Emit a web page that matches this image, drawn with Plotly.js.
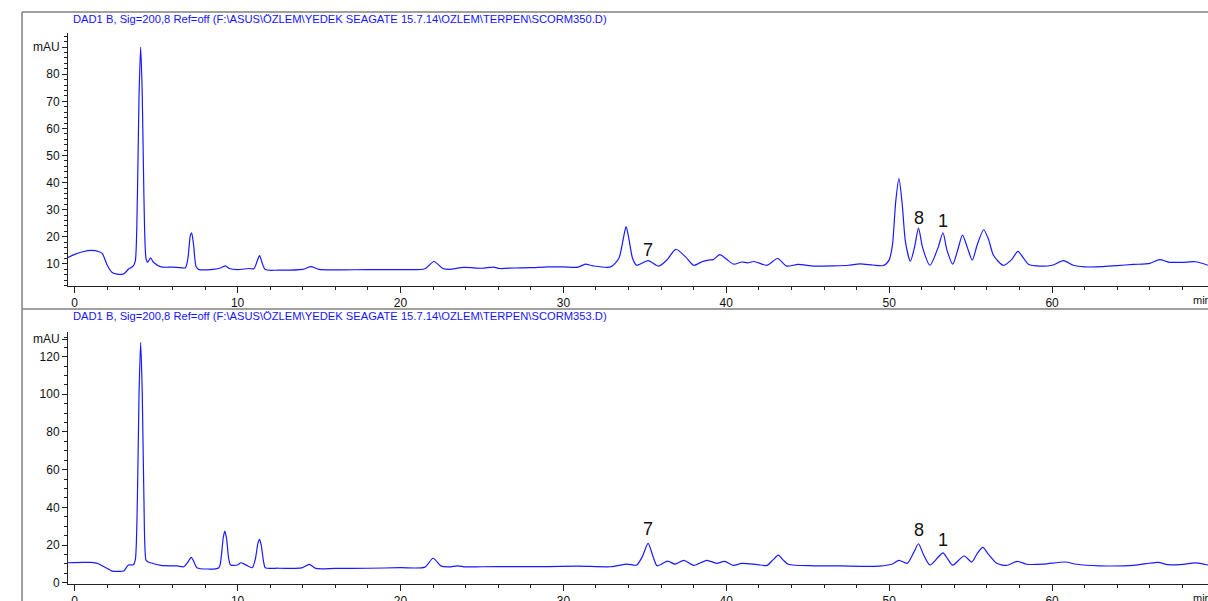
<!DOCTYPE html>
<html>
<head>
<meta charset="utf-8">
<script src="https://cdn.plot.ly/plotly-3.0.1.min.js"></script>
<style>html,body{margin:0;padding:0;background:#fff;}#chart{width:1208px;height:601px;}</style>
</head>
<body>
<div id="chart"></div>
<script>
// ---- Data: SCORM350.D (top panel) ----
const time350 = [-0.41,0,0.5,1.0,1.5,1.7,2.0,2.3,2.6,3.0,3.3,3.6,3.72,3.85,3.95,4.05,4.15,4.25,4.38,4.48,4.66,4.85,5.3,6.0,6.5,6.8,6.95,7.1,7.18,7.3,7.45,7.6,8.5,9.0,9.25,9.5,10.0,10.7,11.0,11.2,11.35,11.5,11.7,12.5,14.0,14.5,15.0,16,18,20,21.5,22.05,22.6,23.0,23.9,25.0,25.7,26.1,27.0,28.0,29.0,30.0,30.9,31.35,31.8,32.9,33.4,33.7,33.85,34.0,34.25,34.5,35.2,35.85,36.35,36.9,37.5,38.0,38.5,38.9,39.2,39.6,40.0,40.45,40.96,41.3,41.7,42.5,43.15,43.7,44.4,45.4,46.6,47.5,48.2,49.0,49.65,50.0,50.2,50.4,50.6,50.8,51.0,51.3,51.55,51.8,52.05,52.5,53.0,53.3,53.55,53.9,54.2,54.5,54.8,55.1,55.4,55.8,56.1,56.4,57.0,57.5,57.9,58.2,58.55,59.26,60.0,60.7,61.3,62.0,63.0,64.0,65.0,66.0,66.6,67.2,68.0,68.8,69.57];
const mau350  = [12.4,13.5,14.5,15.0,14.5,13.8,9.5,6.8,6.2,6.3,8.0,9.3,11,35,72,90,72,35,12,10.6,12.2,10.5,8.9,8.8,8.6,8.6,12,20.5,21.5,17,9,8.0,8.0,8.6,9.3,8.3,7.9,8.3,8.2,11,13.1,10.5,7.9,7.7,8.0,9.0,8.0,7.8,7.9,7.9,8.2,10.9,8.3,8.0,8.7,8.4,8.8,8.3,8.5,8.6,8.9,8.9,8.8,9.9,9.3,8.9,12,20,23.8,20,12,9.5,11.2,9.2,11.4,15.4,12.6,9.5,10.8,11.4,11.6,13.4,11.8,9.9,10.7,10.4,10.9,9.5,12.0,9.2,9.8,9.2,9.3,9.5,10.0,9.6,9.4,11.5,17,33,41.5,32,18,11.0,16,23.2,16,9.5,16,21.5,15,9.9,15,20.6,16,11.4,17,22.6,19,13.2,9.5,11.5,14.6,12.5,9.9,9.2,9.5,11.2,9.5,8.9,9.0,9.4,9.8,10.2,11.6,10.6,10.6,10.8,9.5];

// ---- Data: SCORM353.D (bottom panel) ----
const time353 = [-0.41,0.5,1.0,1.4,1.6,2.0,2.3,2.7,3.0,3.3,3.6,3.72,3.85,3.95,4.05,4.15,4.25,4.38,4.48,4.66,5.3,6.3,6.7,6.95,7.16,7.35,7.5,8.85,9.0,9.12,9.22,9.33,9.45,9.57,9.98,10.2,10.5,10.9,11.1,11.25,11.35,11.45,11.6,11.7,12.5,13.5,14.0,14.4,14.8,16,18,20,21.5,22.0,22.5,23.0,23.5,24,25,27,29,31.0,32.9,33.9,34.5,34.85,35.2,35.5,35.75,36.4,36.85,37.4,38.0,38.8,39.4,39.9,40.45,40.95,41.9,42.5,42.85,43.2,43.5,43.8,45.4,47,49.4,50.15,50.6,51.1,51.5,51.8,52.1,52.5,53.0,53.3,53.6,53.9,54.6,55.07,55.4,55.75,56.1,56.6,57.2,57.87,58.45,59.5,60.8,61.5,62.9,65.0,66.5,67.1,68.05,68.8,69.57];
const mau353  = [10.6,10.8,10.8,10.3,9.4,7.6,6.2,6.0,6.2,9.4,9.5,12,45,100,127.5,100,45,12,11.2,10.6,9.2,8.9,8.5,11,13.5,10.5,8.0,8.0,14,24,27.4,23,13,9.4,9.4,10.6,9.5,8.0,13,21,23.0,20,11,8.0,7.7,7.6,8.0,9.8,7.6,7.6,7.7,8.0,8.3,13.0,8.8,8.4,9.0,8.4,8.5,8.6,8.6,8.8,8.5,9.9,9.4,14,20.9,14,9.0,11.5,9.9,11.9,9.2,11.9,10.3,11.3,9.2,10.3,9.6,9.2,12,14.7,12,9.8,9.0,8.9,8.8,9.8,11.9,10.3,16,20.7,15,9.4,13.5,15.9,12.5,9.4,14.2,11.0,15.5,18.8,15,10.3,9.2,11.3,9.8,9.9,11.0,9.8,9.0,9.2,10.8,9.6,9.8,10.5,9.4];

// ---- Peak labels ----
const peakNames = ['7', '8', '1'];
const peakTimes = [35.2, 51.8, 53.3];
const peakLabelY350 = [15.1, 26.9, 25.8];
const peakLabelY353 = [28.5, 28.0, 22.7];

// ---- Axis tick labels ----
const xTickVals = [0, 10, 20, 30, 40, 50, 60];
const yTickVals350 = [10, 20, 30, 40, 50, 60, 70, 80, 90];
const yTickText350 = ['10', '20', '30', '40', '50', '60', '70', '80', 'mAU'];
const yTickVals353 = [0, 20, 40, 60, 80, 100, 120, 129.2];
const yTickText353 = ['0', '20', '40', '60', '80', '100', '120', 'mAU'];

const titles = [
  'DAD1 B, Sig=200,8 Ref=off (F:\\ASUS\\ÖZLEM\\YEDEK SEAGATE 15.7.14\\OZLEM\\TERPEN\\SCORM350.D)',
  'DAD1 B, Sig=200,8 Ref=off (F:\\ASUS\\ÖZLEM\\YEDEK SEAGATE 15.7.14\\OZLEM\\TERPEN\\SCORM353.D)'
];

const W = 1208, H = 601;
const px = v => v / W;
const py = v => (H - v) / H;

const lineStyle = {color: 'rgb(25,25,255)', width: 1.2, shape: 'spline', smoothing: 0.7};
const traces = [
  {x: time350, y: mau350, type: 'scatter', mode: 'lines', line: lineStyle, xaxis: 'x', yaxis: 'y', hoverinfo: 'skip'},
  {x: time353, y: mau353, type: 'scatter', mode: 'lines', line: lineStyle, xaxis: 'x2', yaxis: 'y2', hoverinfo: 'skip'}
];

const tickFont = {family: 'Liberation Sans, Arial, sans-serif', size: 12, color: '#111'};
function xAxis(anchor) {
  return {
    domain: [px(68), 1], range: [-0.41, 69.57], anchor: anchor,
    showline: true, linecolor: '#222', linewidth: 1, mirror: false,
    showgrid: false, zeroline: false,
    tickmode: 'array', tickvals: xTickVals, ticks: 'outside', ticklen: 6, tickcolor: '#222',
    tickfont: tickFont,
    minor: {dtick: 2, tick0: 0, ticks: 'outside', ticklen: 3, tickcolor: '#222', showgrid: false}
  };
}
function yAxis(anchor, dom, rng, vals, txt, minorD) {
  return {
    domain: dom, range: rng, anchor: anchor,
    showline: true, linecolor: '#222', linewidth: 1,
    showgrid: false, zeroline: false,
    tickmode: 'array', tickvals: vals, ticktext: txt, ticks: 'outside', ticklen: 5, tickcolor: '#222',
    tickfont: tickFont,
    minor: {dtick: minorD, tick0: 0, ticks: 'outside', ticklen: 3, tickcolor: '#222', showgrid: false}
  };
}

const annotations = [];
titles.forEach((t, i) => {
  annotations.push({
    xref: 'paper', yref: 'paper', x: px(71), y: py(i === 0 ? 19 : 316),
    xanchor: 'left', yanchor: 'middle', showarrow: false, text: t,
    font: {family: 'Liberation Sans, Arial, sans-serif', size: 11.2, color: 'rgb(20,20,255)'}
  });
});
[300, 598].forEach(yy => {
  annotations.push({
    xref: 'paper', yref: 'paper', x: px(1191), y: py(yy),
    xanchor: 'left', yanchor: 'middle', showarrow: false, text: 'min',
    font: {family: 'Liberation Sans, Arial, sans-serif', size: 11, color: '#111'}
  });
});
peakNames.forEach((n, i) => {
  annotations.push({xref: 'x', yref: 'y', x: peakTimes[i], y: peakLabelY350[i], text: n, showarrow: false,
    xanchor: 'center', yanchor: 'middle', font: {family: 'Liberation Sans, Arial, sans-serif', size: 18, color: '#111'}});
  annotations.push({xref: 'x2', yref: 'y2', x: peakTimes[i], y: peakLabelY353[i], text: n, showarrow: false,
    xanchor: 'center', yanchor: 'middle', font: {family: 'Liberation Sans, Arial, sans-serif', size: 18, color: '#111'}});
});

const frame = {color: '#808080', width: 1.5};
const shapes = [
  {type: 'line', xref: 'paper', yref: 'paper', x0: px(22), x1: 1, y0: py(12), y1: py(12), line: frame},
  {type: 'line', xref: 'paper', yref: 'paper', x0: px(22), x1: 1, y0: py(309), y1: py(309), line: frame},
  {type: 'line', xref: 'paper', yref: 'paper', x0: px(22), x1: px(22), y0: py(12), y1: 0, line: frame}
];

const layout = {
  width: W, height: H, margin: {l: 0, r: 0, t: 0, b: 0},
  paper_bgcolor: '#fff', plot_bgcolor: '#fff', showlegend: false,
  xaxis: xAxis('y'),
  yaxis: yAxis('x', [py(286), py(33.3)], [1.85, 95.1], yTickVals350, yTickText350, 2),
  xaxis2: xAxis('y2'),
  yaxis2: yAxis('x2', [py(583.5), py(331.7)], [-0.4, 133.2], yTickVals353, yTickText353, 5),
  annotations: annotations, shapes: shapes
};

Plotly.newPlot('chart', traces, layout, {staticPlot: true, displayModeBar: false});
</script>
</body>
</html>
